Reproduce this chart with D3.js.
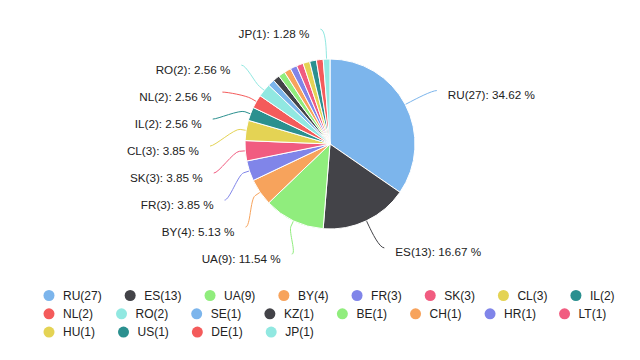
<!DOCTYPE html>
<html><head><meta charset="utf-8">
<script src="https://cdn.jsdelivr.net/npm/d3@7"></script>
<style>body{margin:0;background:#fff}svg{display:block;font-family:"Liberation Sans",Arial,sans-serif}</style>
</head><body><svg id="c" width="640" height="360"></svg>
<script>
const categories = ["RU","ES","UA","BY","FR","SK","CL","IL","NL","RO","SE","KZ","BE","CH","HR","LT","HU","US","DE","JP"];
const values = [27,13,9,4,3,3,3,2,2,2,1,1,1,1,1,1,1,1,1,1];
const palette = ["#7cb5ec","#434348","#90ed7d","#f7a35c","#8085e9","#f15c80","#e4d354","#2b908f","#f45b5b","#91e8e1"];

const cx = 330, cy = 144, r = 85, dist = 30;
const svg = d3.select("#c");
const total = d3.sum(values);
const data = categories.map((c, i) => ({name: c, value: values[i], color: palette[i % palette.length]}));
const arcs = d3.pie().value(d => d.value).sort(null)(data);
const arc = d3.arc().innerRadius(0).outerRadius(r);

const connG = svg.append("g");
const pieG = svg.append("g").attr("transform", `translate(${cx},${cy})`);
pieG.selectAll("path").data(arcs).join("path")
  .attr("d", arc).attr("fill", d => d.data.color)
  .attr("stroke", "#fff").attr("stroke-width", 1).attr("stroke-linejoin", "round");

const R = r + dist, boxH = 27, areaTop = 10, areaBottom = 276;
const items = arcs.map(a => {
  const m = (a.startAngle + a.endAngle) / 2;
  return {a, m, left: m > Math.PI, target: cy - Math.cos(m) * R, rank: a.data.value};
});
function distribute(list) {
  const len = areaBottom - areaTop;
  let boxes = list.slice().sort((p, q) => p.target - q.target);
  if (boxes.length * boxH > len) {
    const ranked = boxes.slice().sort((p, q) => q.rank - p.rank);
    const keep = new Set(ranked.slice(0, Math.floor(len / boxH)));
    boxes = boxes.filter(b => keep.has(b));
  }
  let comps = boxes.map(b => ({items: [b], tmin: b.target, tmax: b.target}));
  const place = c => {
    c.size = c.items.length * boxH;
    const t = (c.tmin + c.tmax) / 2;
    c.pos = Math.min(Math.max(areaTop, t - c.size / 2), areaBottom - c.size);
  };
  comps.forEach(place);
  let overlap = true;
  while (overlap) {
    overlap = false;
    for (let i = comps.length - 1; i > 0; i--) {
      const p = comps[i - 1], c = comps[i];
      if (p.pos + p.size > c.pos) {
        p.items = p.items.concat(c.items);
        p.tmin = Math.min(p.tmin, c.tmin); p.tmax = Math.max(p.tmax, c.tmax);
        comps.splice(i, 1); place(p); overlap = true;
      }
    }
  }
  comps.forEach(c => c.items.forEach((b, k) => { b.y = c.pos + k * boxH + boxH / 2; }));
  return boxes;
}
const shown = distribute(items.filter(d => !d.left)).concat(distribute(items.filter(d => d.left)));

const labG = svg.append("g").attr("font-size", 11.7).attr("fill", "#222");
shown.forEach(b => {
  const s = b.left ? -1 : 1;
  const ly = b.y;
  const dx = Math.sqrt(Math.max(0, R * R - (ly - cy) * (ly - cy)));
  const lx = cx + s * (dx + 5);
  const tx = cx + Math.sin(b.m) * r, ty = cy - Math.cos(b.m) * r;
  const bx = cx + Math.sin(b.m) * (r + 6), by = cy - Math.cos(b.m) * (r + 6);
  const p = d3.path();
  p.moveTo(lx, ly);
  p.bezierCurveTo(lx - s * 5, ly, 2 * bx - tx, 2 * by - ty, bx, by);
  p.lineTo(tx, ty);
  connG.append("path").attr("d", p.toString()).attr("fill", "none")
    .attr("stroke", b.a.data.color).attr("stroke-width", 1);
  const pct = (b.a.data.value / total * 100).toFixed(2);
  labG.append("text").attr("x", lx + s * 11).attr("y", ly + 4)
    .attr("dominant-baseline", "central")
    .attr("text-anchor", b.left ? "end" : "start")
    .text(`${b.a.data.name}(${b.a.data.value}): ${pct} %`);
});

const lg = svg.append("g").attr("font-size", 12).attr("fill", "#222");
const x0 = 43, maxX = 632, rowH = 18.3;
let lgx = x0, lgy = 295.5;
data.forEach(d => {
  const t = lg.append("text").attr("dominant-baseline", "central").text(`${d.name}(${d.value})`);
  const w = t.node().getComputedTextLength();
  if (lgx + 20 + w > maxX && lgx > x0) { lgx = x0; lgy += rowH; }
  lg.append("circle").attr("cx", lgx + 6).attr("cy", lgy).attr("r", 5.5).attr("fill", d.color);
  t.attr("x", lgx + 20).attr("y", lgy);
  lgx += 20 + w + 22.5;
});
</script></body></html>
